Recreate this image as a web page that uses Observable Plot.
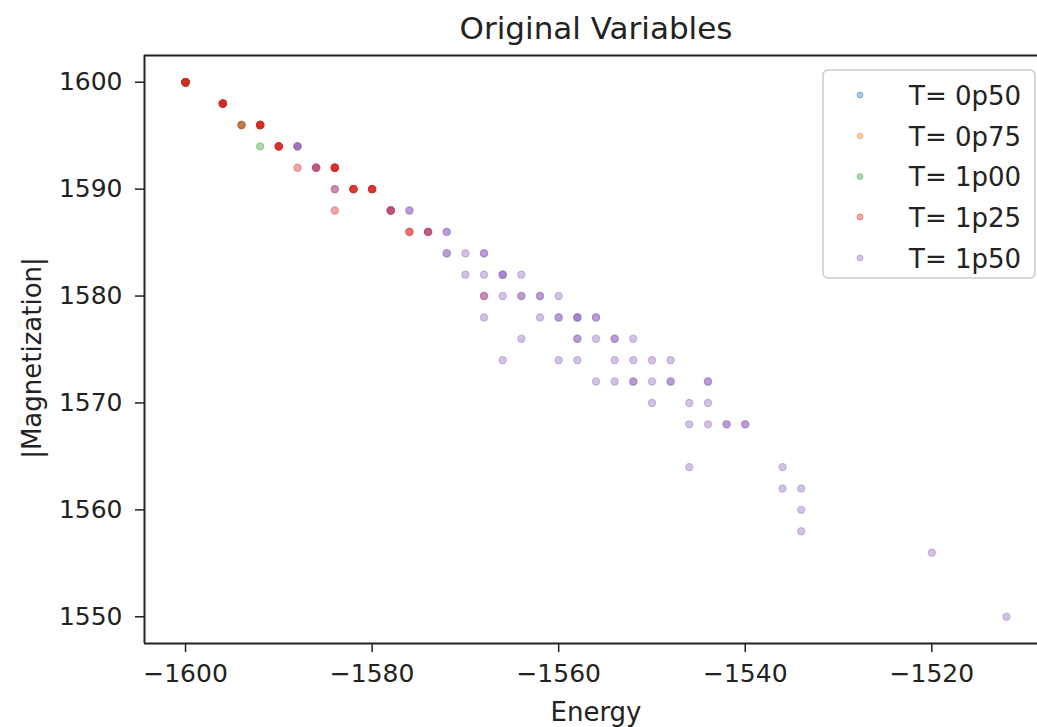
<!DOCTYPE html>
<html><head><meta charset="utf-8">
<script src="https://cdn.jsdelivr.net/npm/d3@7"></script>
<script src="https://cdn.jsdelivr.net/npm/@observablehq/plot@0.6"></script>
<style>
html,body{margin:0;padding:0;background:#fff;overflow:hidden}
#chart svg{display:block}
</style></head><body><div id="chart"></div>
<script>
// ---- data ----
const seriesNames = ["T= 0p50", "T= 0p75", "T= 1p00", "T= 1p25", "T= 1p50"];
const seriesColors = ["#1f77b4", "#ff7f0e", "#2ca02c", "#d62728", "#9467bd"];

const energy_0p50 = [-1600];
const mag_0p50    = [1600];
const count_0p50  = [5];

const energy_0p75 = [-1600, -1596, -1594];
const mag_0p75    = [1600, 1598, 1596];
const count_0p75  = [5, 2, 1];

const energy_1p00 = [-1600, -1596, -1594, -1592, -1592];
const mag_1p00    = [1600, 1598, 1596, 1596, 1594];
const count_1p00  = [5, 4, 1, 2, 1];

const energy_1p25 = [-1600, -1596, -1594, -1592, -1590, -1588, -1588, -1586, -1584, -1584, -1582, -1580, -1584, -1578, -1576, -1574, -1568];
const mag_1p25    = [1600, 1598, 1596, 1596, 1594, 1594, 1592, 1592, 1592, 1590, 1590, 1590, 1588, 1588, 1586, 1586, 1580];
const count_1p25  = [6, 6, 1, 6, 6, 1, 1, 3, 6, 1, 5, 5, 1, 4, 2, 3, 1];

const energy_1p50 = [-1588, -1586, -1584, -1578, -1576, -1574, -1572, -1572, -1570, -1568,
                     -1570, -1568, -1566, -1564, -1568, -1566, -1564, -1562, -1560,
                     -1568, -1562, -1560, -1558, -1556, -1564, -1558, -1556, -1554, -1552,
                     -1566, -1560, -1558, -1554, -1552, -1550, -1548,
                     -1556, -1554, -1552, -1550, -1548, -1544,
                     -1550, -1546, -1544, -1546, -1544, -1542, -1540,
                     -1546, -1536, -1536, -1534, -1534, -1534, -1520, -1512];
const mag_1p50    = [1594, 1592, 1590, 1588, 1588, 1586, 1586, 1584, 1584, 1584,
                     1582, 1582, 1582, 1582, 1580, 1580, 1580, 1580, 1580,
                     1578, 1578, 1578, 1578, 1578, 1576, 1576, 1576, 1576, 1576,
                     1574, 1574, 1574, 1574, 1574, 1574, 1574,
                     1572, 1572, 1572, 1572, 1572, 1572,
                     1570, 1570, 1570, 1568, 1568, 1568, 1568,
                     1564, 1564, 1562, 1562, 1560, 1558, 1556, 1550];
const count_1p50  = [3, 1, 1, 1, 2, 1, 2, 2, 1, 2,
                     1, 1, 3, 1, 1, 1, 2, 2, 1,
                     1, 1, 2, 3, 2, 1, 2, 1, 2, 1,
                     1, 1, 1, 1, 1, 1, 1,
                     1, 1, 2, 1, 2, 2,
                     1, 1, 1, 1, 1, 2, 2,
                     1, 1, 1, 1, 1, 1, 1, 1];

const xTicks = [-1600, -1580, -1560, -1540, -1520];
const yTicks = [1550, 1560, 1570, 1580, 1590, 1600];
const titleText = "Original Variables";
const xLabel = "Energy";
const yLabel = "|Magnetization|";

// ---- build rows (each sample drawn with alpha, so overlaps darken) ----
const seriesData = [
  [energy_0p50, mag_0p50, count_0p50],
  [energy_0p75, mag_0p75, count_0p75],
  [energy_1p00, mag_1p00, count_1p00],
  [energy_1p25, mag_1p25, count_1p25],
  [energy_1p50, mag_1p50, count_1p50]
];
const rows = [];
seriesData.forEach(([E, M, N], s) => {
  E.forEach((e, i) => {
    for (let k = 0; k < N[i]; k++) rows.push({series: seriesNames[s], energy: e, mag: M[i]});
  });
});

const W = 1037, H = 727;
const xDom = [-1604.4, -1508.67];
const yDom = [1547.5, 1602.5];
const ink = "#222";

const chart = Plot.plot({
  width: W, height: H,
  marginLeft: 144, marginRight: 0, marginTop: 55, marginBottom: 84,
  style: {fontFamily: "DejaVu Sans", fontSize: "25px", color: ink, background: "#fff", overflow: "hidden"},
  x: {domain: xDom},
  y: {domain: yDom},
  color: {domain: seriesNames, range: seriesColors},
  marks: [
    Plot.dot(rows, {x: "energy", y: "mag", fill: "series", stroke: "series", r: 3.6,
      fillOpacity: 0.4, strokeOpacity: 0.4, strokeWidth: 1.2}),
    Plot.axisX({ticks: xTicks, tickSize: 9, tickPadding: 12, tickFormat: d3.format("d"),
      label: null, fontSize: 25, strokeWidth: 1.5}),
    Plot.axisY({ticks: yTicks, tickSize: 9, tickPadding: 13, tickFormat: d3.format("d"),
      label: null, fontSize: 25, strokeWidth: 1.5}),
    Plot.ruleX([xDom[0]], {stroke: ink, strokeWidth: 2}),
    Plot.ruleY(yDom, {stroke: ink, strokeWidth: 2})
  ]
});
document.getElementById("chart").appendChild(chart);

const svg = d3.select(chart);
svg.append("text").text(titleText)
  .attr("x", 596).attr("y", 39).attr("text-anchor", "middle")
  .attr("font-size", 31).attr("fill", ink);
svg.append("text").text(xLabel)
  .attr("x", 596).attr("y", 721).attr("text-anchor", "middle")
  .attr("font-size", 26).attr("fill", ink);
svg.append("text").text(yLabel)
  .attr("transform", "translate(41,358) rotate(-90)").attr("text-anchor", "middle")
  .attr("font-size", 26).attr("fill", ink);

// legend
const lg = svg.append("g");
lg.append("rect").attr("x", 823).attr("y", 70).attr("width", 212).attr("height", 208)
  .attr("rx", 5).attr("fill", "#fff").attr("fill-opacity", 0.8)
  .attr("stroke", "#ccc").attr("stroke-width", 1.5);
const rowY = [95, 136, 176.5, 217, 258];
seriesNames.forEach((name, i) => {
  lg.append("circle").attr("cx", 860).attr("cy", rowY[i]).attr("r", 3)
    .attr("fill", seriesColors[i]).attr("fill-opacity", 0.4)
    .attr("stroke", seriesColors[i]).attr("stroke-opacity", 0.4).attr("stroke-width", 1);
  lg.append("text").text(name).attr("x", 909).attr("y", rowY[i] + 9.5)
    .attr("text-anchor", "start")
    .attr("font-size", 26).attr("fill", ink);
});
</script>
</body></html>
